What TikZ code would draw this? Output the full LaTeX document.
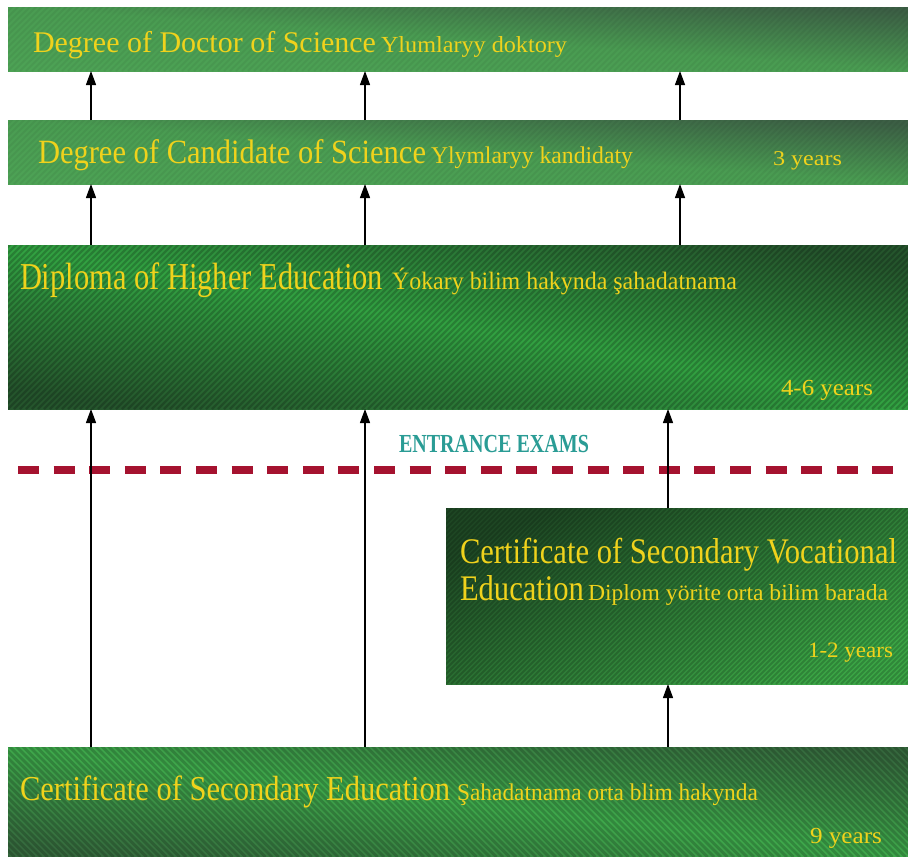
\documentclass[tikz,border=0pt]{standalone}
\usepackage{fontspec}
\setmainfont{Liberation Serif}
\usepackage{graphicx}
\usetikzlibrary{arrows.meta}
\definecolor{ytext}{HTML}{F0D21C}
\definecolor{etext}{HTML}{2A9C95}
\definecolor{exred}{HTML}{A5122F}
\definecolor{gAtop}{HTML}{3C5F45}
\definecolor{gAmid}{HTML}{4A9C52}
\definecolor{gAbot}{HTML}{4DA255}
\definecolor{gBdark}{HTML}{25562D}
\definecolor{gBbright}{HTML}{32A242}
\definecolor{gCdark}{HTML}{1E4824}
\definecolor{gCbright}{HTML}{3BA646}
\definecolor{gDdark}{HTML}{35683D}
\definecolor{gDbright}{HTML}{3EA84B}
\newsavebox\fitbox
\newcommand\fitw[3]{\sbox\fitbox{\fontsize{#2}{#2}\selectfont #3}\pgfmathsetmacro\fitsx{#1/(\the\wd\fitbox)}\scalebox{\fitsx}[1]{\usebox\fitbox}}
\tikzset{
  gbox/.style={rectangle, anchor=north west, inner sep=0pt, outer sep=0pt, draw=none},
  stripeline/.style={line width=2.4pt, black, opacity=0.2},
  stripesNE/.style={path picture={\foreach \k in {0,...,270}{\draw[stripeline] ([xshift=\k*#1pt-240pt]path picture bounding box.south west) -- ++(240pt,240pt);}}},
  stripesNW/.style={path picture={\foreach \k in {0,...,270}{\draw[stripeline] ([xshift=\k*#1pt]path picture bounding box.south west) -- ++(-240pt,240pt);}}},
  ytxt/.style={anchor=base west, inner sep=0pt, outer sep=0pt, text=ytext},
  etxt/.style={anchor=base west, inner sep=0pt, outer sep=0pt, text=etext},
  arr/.style={draw=black, line width=1.3pt, -{Triangle[width=10pt,length=14pt]}},
  examline/.style={draw=exred, line width=7.5pt, dash pattern=on 21pt off 14.6pt}
}
\begin{document}
\begin{tikzpicture}[x=1pt,y=-1pt]
\useasboundingbox[fill=white] (0,0) rectangle (908,857);
% boxes
\node[gbox, minimum width=900pt, minimum height=64pt, top color=gAtop, bottom color=gAbot, middle color=gAmid, shading angle=-4, stripesNE=6, stripeline/.style={line width=2pt, black, opacity=0.05}] (b1) at (8,7) {};
\node[gbox, minimum width=900pt, minimum height=64pt, top color=gAtop, bottom color=gAbot, middle color=gAmid, shading angle=-4, stripesNE=6, stripeline/.style={line width=2pt, black, opacity=0.05}] (b2) at (8,120) {};
\node[gbox, minimum width=900pt, minimum height=164pt, top color=gBdark, bottom color=gBdark, middle color=gBbright, shading angle=-10, stripesNE=6] (b3) at (8,245) {};
\node[gbox, minimum width=462pt, minimum height=176pt, left color=gCdark, right color=gCbright, shading angle=25, stripesNE=5, stripeline/.style={line width=2pt, black, opacity=0.18}] (b4) at (446,508) {};
\node[gbox, minimum width=900pt, minimum height=110pt, top color=gDdark, bottom color=gDdark, middle color=gDbright, shading angle=-7, stripesNW=6.6, stripeline/.style={line width=2.8pt, black, opacity=0.18}] (b5) at (8,747) {};
% texts
\node[ytxt] (t1a) at (33,52) {\fitw{343}{30}{Degree of Doctor of Science}};
\node[ytxt] (t1b) at (381,52) {\fitw{186}{23}{Ylumlaryy doktory}};
\node[ytxt] (t2a) at (38,163) {\fitw{388}{34}{Degree of Candidate of Science}};
\node[ytxt] (t2b) at (431,163) {\fitw{202}{24}{Ylymlaryy kandidaty}};
\node[ytxt] (t2c) at (773,165) {\fitw{69}{21}{3 years}};
\node[ytxt] (t3a) at (20,289) {\fitw{363}{38}{Diploma of Higher Education}};
\node[ytxt] (t3b) at (392,289) {\fitw{345}{25}{Ýokary bilim hakynda şahadatnama}};
\node[ytxt] (t3c) at (781,395) {\fitw{92}{23}{4-6 years}};
\node[ytxt] (t4a) at (460,563) {\fitw{437}{36}{Certificate of Secondary Vocational}};
\node[ytxt] (t4b) at (460,600) {\fitw{124}{36}{Education}};
\node[ytxt] (t4c) at (588,600) {\fitw{300}{23}{Diplom yörite orta bilim barada}};
\node[ytxt] (t4d) at (808,657) {\fitw{85}{22}{1-2 years}};
\node[ytxt] (t5a) at (20,800) {\fitw{430}{35}{Certificate of Secondary Education}};
\node[ytxt] (t5b) at (457,800) {\fitw{301}{24}{Şahadatnama orta blim hakynda}};
\node[ytxt] (t5c) at (810,843) {\fitw{72}{23}{9 years}};
\node[etxt] (ex) at (399,452) {\fitw{190}{26}{\bfseries ENTRANCE EXAMS}};
% dashed line
\coordinate (dl) at (18,470);
\coordinate (dr) at (895,470);
\draw[examline] (dl) -- (dr);
% arrow columns
\coordinate (xa) at (91,0);
\coordinate (xb) at (365,0);
\coordinate (xc) at (680,0);
\coordinate (xd) at (668,0);
\draw[arr] (b2.north -| xa) -- (b1.south -| xa);
\draw[arr] (b2.north -| xb) -- (b1.south -| xb);
\draw[arr] (b2.north -| xc) -- (b1.south -| xc);
\draw[arr] (b3.north -| xa) -- (b2.south -| xa);
\draw[arr] (b3.north -| xb) -- (b2.south -| xb);
\draw[arr] (b3.north -| xc) -- (b2.south -| xc);
\draw[arr] (b5.north -| xa) -- (b3.south -| xa);
\draw[arr] (b5.north -| xb) -- (b3.south -| xb);
\draw[arr] (b4.north -| xd) -- (b3.south -| xd);
\draw[arr] (b5.north -| xd) -- (b4.south -| xd);
\end{tikzpicture}
\end{document}
